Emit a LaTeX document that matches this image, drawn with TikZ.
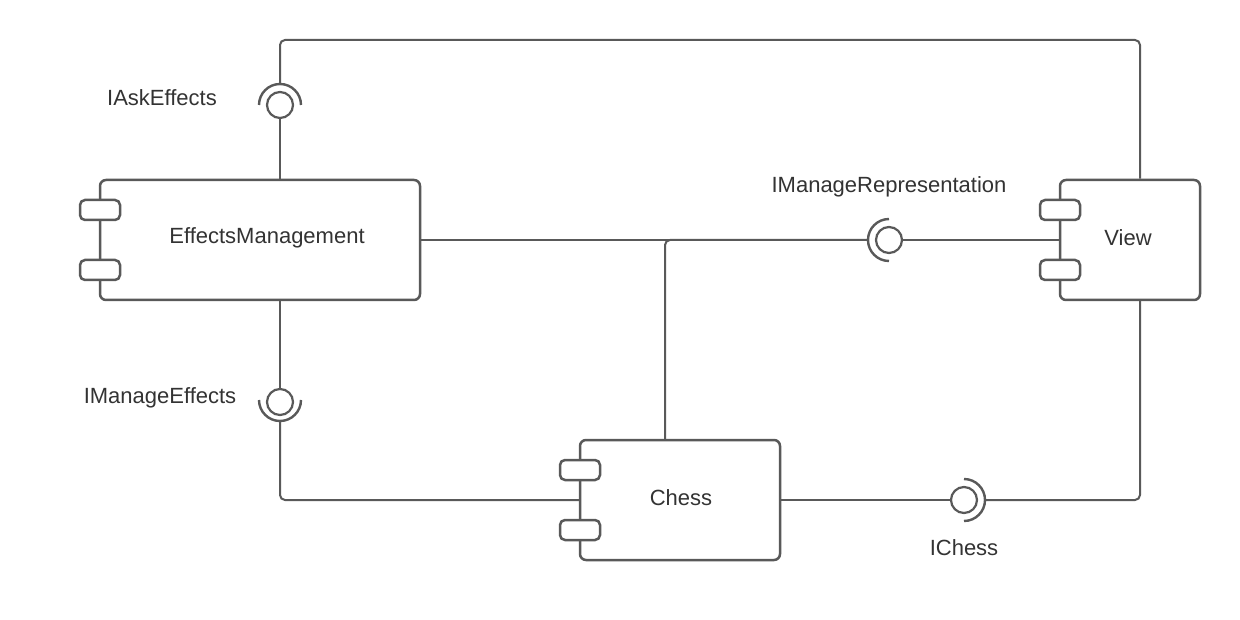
\documentclass[tikz,border=0pt]{standalone}
\usepackage{fontspec}
\setmainfont{Liberation Sans}
\begin{document}
\begin{tikzpicture}[x=1pt,y=-1pt,
  wire/.style={draw=linegray,line width=2pt,rounded corners=5pt},
  comp/.style={draw=linegray,line width=2.5pt,rounded corners=6pt,fill=white,inner sep=0pt,text=txtgray,font=\fontsize{22}{26}\selectfont},
  port/.style={draw=linegray,line width=2.5pt,rounded corners=5pt,fill=white,minimum width=40pt,minimum height=20pt,inner sep=0pt},
  ball/.style={draw=linegray,line width=2.2pt,circle,minimum size=26pt,inner sep=0pt},
  sock/.style={draw=linegray,line width=2.4pt},
  lbl/.style={text=txtgray,font=\fontsize{22}{26}\selectfont,inner sep=0pt}]
\definecolor{linegray}{HTML}{595959}
\definecolor{txtgray}{HTML}{333333}
\useasboundingbox[fill=white] (0,0) rectangle (1240,620);
% components
\node[comp,minimum width=320pt,minimum height=120pt] (em) at (260,240) {};
\node[comp,minimum width=140pt,minimum height=120pt] (view) at (1130,240) {};
\node[comp,minimum width=200pt,minimum height=120pt] (chess) at (680,500) {};
\node[port] (emp1) at (100,210) {};
\node[port] (emp2) at (100,270) {};
\node[port] (vp1) at (1060,210) {};
\node[port] (vp2) at (1060,270) {};
\node[port] (cp1) at (580,470) {};
\node[port] (cp2) at (580,530) {};
\node[lbl] (emt) at (267,238) {EffectsManagement};
\node[lbl] (viewt) at (1128,238) {View};
\node[lbl] (chesst) at (681,498) {Chess};
% lollipop balls
\node[ball] (askball) at (280,105) {};
\node[ball] (mgball) at (280,402) {};
\node[ball] (repball) at (889,240) {};
\node[ball] (chball) at (964,500) {};
% sockets
\coordinate (askS) at (280,84);
\coordinate (mgS) at (280,421);
\coordinate (repS) at (868,240);
\coordinate (chS) at (985,500);
\draw[sock] (askS) ++(-21,21) arc[start angle=180,end angle=360,radius=21];
\draw[sock] (mgS) ++(21,-21) arc[start angle=0,end angle=180,radius=21];
\draw[sock] (repS) ++(21,21) arc[start angle=90,end angle=270,radius=21];
\draw[sock] (chS) ++(-21,-21) arc[start angle=-90,end angle=90,radius=21];
% wires
\coordinate (topL) at (280,40);
\coordinate (topR) at (1140,40);
\coordinate (botR) at (1140,500);
\coordinate (mgC) at (280,500);
\coordinate (repC) at (665,240);
\draw[wire] (askS) -- (topL) -- (topR) -- (topR |- view.north);
\draw[wire] (askball.south) -- (askball.south |- em.north);
\draw[wire] (em.south -| mgball.north) -- (mgball.north);
\draw[wire] (mgS) -- (mgC) -- (chess.west);
\draw[wire] (em.east) -- (repS);
\draw[wire] (repC |- chess.north) -- (repC) -- (repS);
\draw[wire] (repball.east) -- (view.west);
\draw[wire] (chess.east) -- (chball.west);
\draw[wire] (chS) -- (botR) -- (botR |- view.south);
% labels
\node[lbl] (askl) at (162,98) {IAskEffects};
\node[lbl] (mgl) at (160,398) {IManageEffects};
\node[lbl] (repl) at (889,187) {IManageRepresentation};
\node[lbl] (chl) at (964,548) {IChess};
\end{tikzpicture}
\end{document}
